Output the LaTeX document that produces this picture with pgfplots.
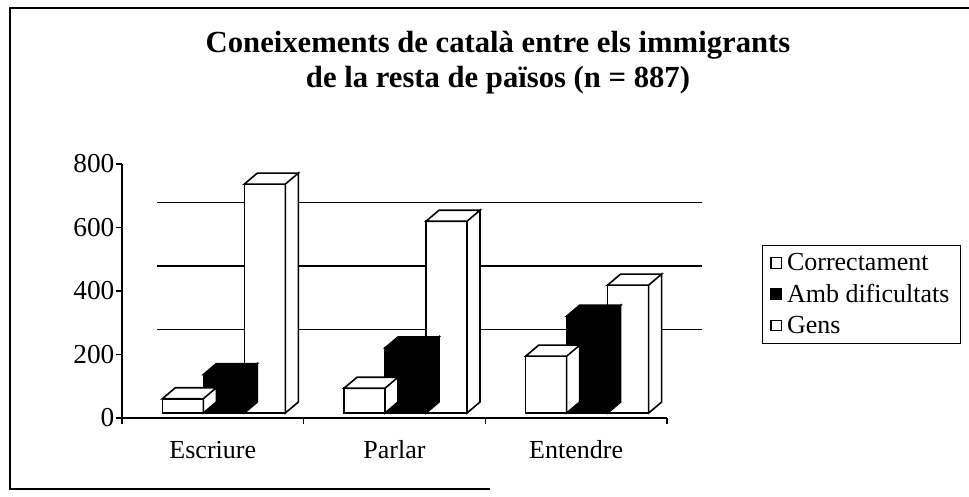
\documentclass[border=0pt]{standalone}
\usepackage{pgfplots}
\usepackage{pgfplotstable}
\pgfplotsset{compat=1.18}
\usepackage{fontspec}
\setmainfont{Liberation Serif}

\pgfplotstableread{
x    cor amb gens
0.5  45  121 721
1.5  78  205 604
2.5  179 305 403
}\data

\def\bw{30.75pt}
\def\ddx{9.75pt}
\def\ddy{8.25pt}
\def\yu{0.238125pt}

\newcommand\boxmark[1]{%
  \pgfpathmoveto{\pgfpoint{#1-0.5*\bw}{0pt}}%
  \pgfpathlineto{\pgfpoint{#1+0.5*\bw}{0pt}}%
  \pgfpathlineto{\pgfpoint{#1+0.5*\bw+\ddx}{\ddy}}%
  \pgfpathlineto{\pgfpoint{#1-0.5*\bw+\ddx}{\ddy}}%
  \pgfpathclose
  \pgfpathmoveto{\pgfpoint{#1+0.5*\bw}{0pt}}%
  \pgfpathlineto{\pgfpoint{#1+0.5*\bw+\ddx}{\ddy}}%
  \pgfpathlineto{\pgfpoint{#1+0.5*\bw+\ddx}{\ddy-\hv*\yu}}%
  \pgfpathlineto{\pgfpoint{#1+0.5*\bw}{-\hv*\yu}}%
  \pgfpathclose
  \pgfusepathqfillstroke}
\pgfdeclareplotmark{boxL}{\boxmark{-30.75pt}}
\pgfdeclareplotmark{boxM}{\boxmark{0pt}}
\pgfdeclareplotmark{boxR}{\boxmark{30.75pt}}

\begin{document}
\begin{tikzpicture}[x=0.75pt,y=0.75pt]
\path[use as bounding box] (0,0) rectangle (969,496);
\draw[line width=1pt] (969,488) -- (10,488) -- (10,7) -- (490,7);

\node[anchor=base, font=\bfseries\fontsize{23}{26}\selectfont] at (498,443) {Coneixements de català entre els immigrants};
\node[anchor=base, font=\bfseries\fontsize{23}{26}\selectfont] at (498,408) {de la resta de països (n = 887)};

% back wall with gridlines
\begin{axis}[
  at={(117.75pt,77.25pt)}, anchor=south west, scale only axis,
  width=408.75pt, height=190.5pt,
  xmin=0, xmax=3, ymin=0, ymax=800,
  axis line style={draw=none}, tick style={draw=none},
  xtick=\empty, ytick={200,400,600}, yticklabels={},
  ymajorgrids, major grid style={black, line width=1.1pt},
]
\end{axis}

% front axis
\begin{axis}[
  at={(91.5pt,58.5pt)}, anchor=south west, scale only axis,
  width=408.75pt, height=190.5pt,
  xmin=0, xmax=3, ymin=0, ymax=800,
  axis x line*=bottom, axis y line*=left,
  xtick pos=bottom, ytick pos=left,
  axis line style={line width=1.1pt},
  xtick={0,1,2,3}, xticklabels={Escriure,Parlar,Entendre,{}},
  ytick={0,200,400,600,800},
  tick align=outside, major tick length=4.5pt,
  tick style={black, line width=1.1pt},
  /pgf/number format/assume math mode=true,
  xticklabel style={font=\fontsize{19.5}{22}\selectfont, anchor=base, xshift=68.1pt, yshift=-25.5pt},
  yticklabel style={font=\fontsize{20.5}{22}\selectfont, inner sep=0pt, xshift=-1pt},
]
\end{axis}

% bars
\begin{axis}[
  at={(99.75pt,62.25pt)}, anchor=south west, scale only axis,
  width=408.75pt, height=190.5pt,
  xmin=0, xmax=3, ymin=0, ymax=800,
  hide axis, clip=false,
  legend style={at={(1.154,0.661)}, anchor=north west, draw=black, line width=0.8pt,
     font=\fontsize{19.5}{22}\selectfont, inner xsep=6pt, inner ysep=4pt, row sep=4.5pt},
  legend cell align=left,
]
\addplot[ybar, bar width=\bw, bar shift=-30.75pt, fill=white, draw=black, line width=1.2pt,
  legend image code/.code={\draw[fill=white,draw=black,line width=0.8pt] (0pt,-4pt) rectangle (8pt,4pt); \path[draw=none,fill=none] (0pt,0pt) -- (10pt,0pt);}]
  table[x=x,y=cor]{\data};
\addlegendentry{Correctament}
\addplot[forget plot, only marks, mark=boxL, mark options={fill=white, draw=black, line width=1.2pt},
  visualization depends on={rawy \as \hv}] table[x=x,y=cor]{\data};

\addplot[ybar, bar width=\bw, bar shift=0pt, fill=black, draw=black, line width=1.2pt,
  legend image code/.code={\draw[fill=black,draw=black,line width=0.8pt] (0pt,-4pt) rectangle (8pt,4pt); \path[draw=none,fill=none] (0pt,0pt) -- (10pt,0pt);}]
  table[x=x,y=amb]{\data};
\addlegendentry{Amb dificultats}
\addplot[forget plot, only marks, mark=boxM, mark options={fill=black, draw=black, line width=1.2pt},
  visualization depends on={rawy \as \hv}] table[x=x,y=amb]{\data};

\addplot[ybar, bar width=\bw, bar shift=30.75pt, fill=white, draw=black, line width=1.2pt,
  legend image code/.code={\draw[fill=white,draw=black,line width=0.8pt] (0pt,-4pt) rectangle (8pt,4pt); \path[draw=none,fill=none] (0pt,0pt) -- (10pt,0pt);}]
  table[x=x,y=gens]{\data};
\addlegendentry{Gens}
\addplot[forget plot, only marks, mark=boxR, mark options={fill=white, draw=black, line width=1.2pt},
  visualization depends on={rawy \as \hv}] table[x=x,y=gens]{\data};
\end{axis}
\end{tikzpicture}
\end{document}
